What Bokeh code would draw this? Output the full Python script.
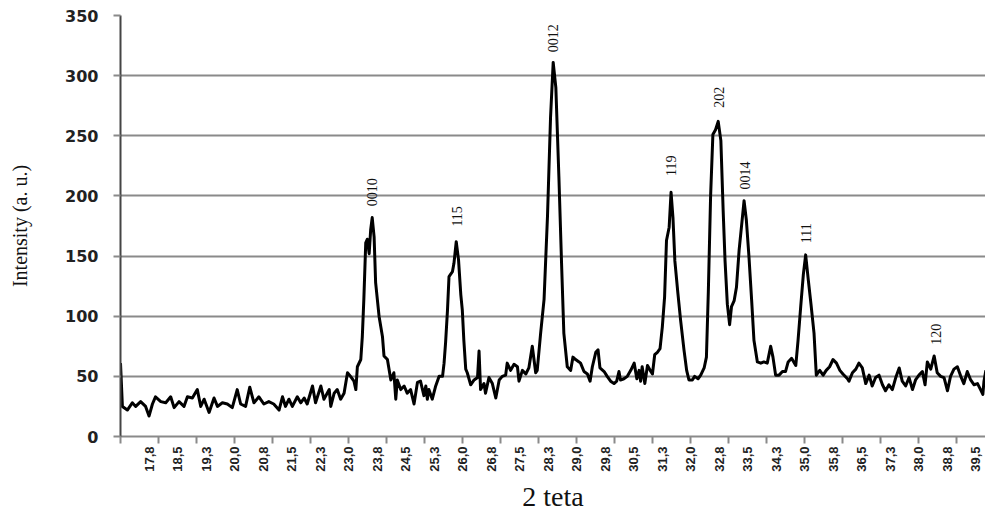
from math import pi
from bokeh.plotting import figure
from bokeh.models import FixedTicker, Range1d, ColumnDataSource
from bokeh.core.properties import value
from bokeh.embed import file_html
from bokeh.resources import INLINE

two_theta = [
    17.00, 17.05, 17.18, 17.31, 17.40, 17.53, 17.66, 17.75, 17.84, 17.92,
    18.06, 18.19, 18.32, 18.41, 18.54, 18.67, 18.76, 18.89, 19.02, 19.11,
    19.20, 19.33, 19.46, 19.55, 19.68, 19.81, 19.94, 20.07, 20.16, 20.29,
    20.40, 20.51, 20.64, 20.77, 20.90, 21.03, 21.17, 21.26, 21.34, 21.43,
    21.52, 21.65, 21.74, 21.83, 21.91, 22.05, 22.13, 22.27, 22.35, 22.49,
    22.53, 22.62, 22.70, 22.79, 22.88, 22.97, 23.05, 23.14, 23.19, 23.23,
    23.32, 23.36, 23.40, 23.45, 23.49, 23.54, 23.58, 23.62, 23.67, 23.71,
    23.80, 23.89, 23.93, 24.02, 24.11, 24.19, 24.24, 24.28, 24.37, 24.46,
    24.54, 24.63, 24.72, 24.81, 24.89, 24.98,
    25.03, 25.07, 25.11, 25.20, 25.29, 25.38, 25.47, 25.51, 25.55, 25.60,
    25.64, 25.73, 25.77, 25.83, 25.89, 25.95, 25.99, 26.03, 26.08, 26.12,
    26.21, 26.30, 26.39, 26.43, 26.47, 26.56, 26.60, 26.69, 26.78, 26.87,
    26.96, 27.04, 27.13, 27.17, 27.26, 27.35, 27.44, 27.48, 27.57, 27.66,
    27.74, 27.83, 27.92, 27.96, 28.05, 28.14, 28.23, 28.31, 28.38, 28.45,
    28.53, 28.60, 28.66, 28.75, 28.84, 28.90, 28.97, 29.06,
    29.10, 29.19, 29.28, 29.35, 29.41, 29.50, 29.56, 29.61, 29.72, 29.80,
    29.89, 29.98, 30.05, 30.11, 30.15, 30.24, 30.33, 30.42, 30.51, 30.58,
    30.64, 30.68, 30.72, 30.79, 30.86, 30.93, 30.99, 31.05, 31.12, 31.19,
    31.25, 31.31, 31.36, 31.43, 31.48, 31.53, 31.58, 31.66, 31.73, 31.82,
    31.89, 31.95, 32.04, 32.10, 32.19, 32.26, 32.35, 32.41, 32.46, 32.52,
    32.58, 32.65, 32.72, 32.79, 32.85, 32.90, 32.96, 33.02, 33.07, 33.14,
    33.20, 33.27, 33.34, 33.40, 33.46, 33.53, 33.60, 33.66, 33.75, 33.84,
    33.92, 34.01, 34.10, 34.16, 34.23, 34.32, 34.41, 34.49, 34.56, 34.65,
    34.76, 34.82, 34.89, 34.96, 35.02, 35.09, 35.16, 35.24, 35.30, 35.39,
    35.48, 35.56, 35.65, 35.74, 35.83, 35.92, 36.00, 36.12,
    36.16, 36.25, 36.34, 36.42, 36.51, 36.60, 36.69, 36.77, 36.86, 36.95,
    37.04, 37.12, 37.21, 37.30, 37.39, 37.48, 37.56, 37.65, 37.74, 37.83,
    37.91, 38.00, 38.09, 38.16, 38.22, 38.31, 38.40, 38.48, 38.57, 38.66,
    38.75, 38.83, 38.92, 39.01, 39.10, 39.18, 39.27, 39.36, 39.45, 39.54,
    39.62, 39.68, 39.71, 39.76,
]

intensity = [
    61, 25, 22, 28, 25, 29, 25, 17, 27, 33,
    29, 28, 33, 24, 29, 25, 33, 32, 39, 25,
    31, 20, 32, 25, 28, 27, 24, 39, 27, 25,
    41, 28, 33, 27, 29, 27, 22, 33, 25, 31,
    25, 33, 28, 32, 27, 42, 28, 42, 31, 39,
    25, 36, 39, 31, 36, 53, 50, 46, 39, 58,
    64, 83, 114, 161, 164, 152, 172, 182, 166, 128,
    100, 83, 67, 64, 47, 53, 31, 47, 39, 42,
    36, 39, 27, 45, 46, 34,
    42, 31, 39, 31, 42, 50, 50, 61, 78, 105,
    133, 137, 144, 162, 147, 118, 105, 80, 56, 53,
    43, 47, 49, 71, 39, 44, 36, 49, 44, 32,
    47, 50, 51, 61, 55, 60, 58, 46, 55, 52,
    57, 75, 53, 55, 86, 114, 183, 265, 311, 290,
    216, 144, 86, 58, 55, 66, 64, 62,
    61, 54, 52, 46, 58, 70, 72, 57, 54, 50,
    46, 44, 46, 54, 47, 48, 50, 55, 61, 48,
    55, 46, 58, 44, 59, 55, 52, 68, 70, 73,
    91, 116, 163, 174, 203, 182, 146, 119, 97, 72,
    55, 47, 47, 50, 48, 51, 57, 66, 120, 200,
    251, 255, 262, 246, 188, 146, 110, 93, 108, 113,
    124, 155, 177, 196, 180, 149, 113, 80, 62, 61,
    62, 61, 75, 66, 51, 51, 54, 54, 62, 65,
    59, 80, 108, 135, 151, 130, 110, 86, 51, 55,
    51, 55, 58, 64, 61, 55, 52, 48,
    46, 53, 56, 61, 57, 44, 51, 42, 49, 51,
    43, 38, 43, 39, 49, 57, 46, 42, 49, 39,
    47, 51, 54, 43, 62, 56, 67, 53, 50, 49,
    38, 50, 56, 58, 50, 44, 54, 47, 43, 44,
    39, 35, 46, 55,
]

tick_pos = [17.75, 18.5, 19.25, 20.0, 20.75, 21.5, 22.25, 23.0, 23.75, 24.5,
            25.25, 26.0, 26.75, 27.5, 28.25, 29.0, 29.75, 30.5, 31.25, 32.0,
            32.75, 33.5, 34.25, 35.0, 35.75, 36.5, 37.25, 38.0, 38.75, 39.5]
tick_labels = ["17,8", "18,5", "19,3", "20,0", "20,8", "21,5", "22,3", "23,0", "23,8", "24,5",
               "25,3", "26,0", "26,8", "27,5", "28,3", "29,0", "29,8", "30,5", "31,3", "32,0",
               "32,8", "33,5", "34,3", "35,0", "35,8", "36,5", "37,3", "38,0", "38,8", "39,5"]
tick_marks = [17, 18, 19, 20, 21, 22, 23, 24, 25, 26, 27, 28, 29, 30, 31, 32,
              33, 34, 35, 36, 37, 38, 39]
y_ticks = [0, 50, 100, 150, 200, 250, 300, 350]

peak_names = ["0010", "115", "0012", "119", "202", "0014", "111", "120"]
peak_pos = [23.61, 25.85, 28.37, 31.48, 32.74, 33.43, 35.03, 38.45]
peak_label_y = [203, 183, 331, 225, 282, 217, 169, 85]

GRID = "#8a8a8a"

p = figure(width=985, height=514, output_backend="svg", toolbar_location=None,
           x_range=Range1d(17.0, 39.75), y_range=Range1d(0, 350),
           min_border_left=120, min_border_right=0, min_border_top=15, min_border_bottom=77)
p.outline_line_color = None
p.background_fill_color = "white"
p.border_fill_color = "white"

p.xgrid.visible = False
p.ygrid.ticker = FixedTicker(ticks=y_ticks)
p.ygrid.grid_line_color = GRID
p.ygrid.grid_line_width = 2

# y axis
p.yaxis.ticker = FixedTicker(ticks=y_ticks)
p.yaxis.axis_line_color = "#444444"
p.yaxis.axis_line_width = 2
p.yaxis.major_tick_line_color = GRID
p.yaxis.major_tick_line_width = 2
p.yaxis.major_tick_out = 7
p.yaxis.major_tick_in = 0
p.yaxis.minor_tick_line_color = None
p.yaxis.major_label_text_font = "DejaVu Sans"
p.yaxis.major_label_text_font_style = "bold"
p.yaxis.major_label_text_font_size = "16px"
p.yaxis.major_label_text_color = "#222222"
p.yaxis.major_label_standoff = 15
p.yaxis.axis_label = "Intensity (a. u.)"
p.yaxis.axis_label_text_font = "Liberation Serif"
p.yaxis.axis_label_text_font_style = "normal"
p.yaxis.axis_label_text_font_size = "20px"
p.yaxis.axis_label_text_color = "#111111"
p.yaxis.axis_label_standoff = 31

# x axis
p.xaxis.ticker = FixedTicker(ticks=tick_pos, minor_ticks=tick_marks)
p.xaxis.major_label_overrides = dict(zip(tick_pos, tick_labels))
p.xaxis.axis_line_color = GRID
p.xaxis.axis_line_width = 2
p.xaxis.major_tick_line_color = None
p.xaxis.major_tick_out = 7
p.xaxis.major_tick_in = 0
p.xaxis.minor_tick_line_color = GRID
p.xaxis.minor_tick_line_width = 2
p.xaxis.minor_tick_out = 7
p.xaxis.minor_tick_in = 0
p.xaxis.major_label_orientation = pi / 2
p.xaxis.major_label_standoff = 3
p.xaxis.major_label_text_font = "Liberation Sans"
p.xaxis.major_label_text_font_style = "bold"
p.xaxis.major_label_text_font_size = "13px"
p.xaxis.major_label_text_color = "#222222"
p.xaxis.axis_label = "2 teta"
p.xaxis.axis_label_text_font = "Liberation Serif"
p.xaxis.axis_label_text_font_style = "normal"
p.xaxis.axis_label_text_font_size = "28px"
p.xaxis.axis_label_text_color = "#111111"
p.xaxis.axis_label_standoff = 6

p.line(two_theta, intensity, line_color="black", line_width=3, line_join="round")

src = ColumnDataSource(dict(x=peak_pos, y=peak_label_y, t=peak_names))
p.text(x="x", y="y", text="t", source=src, angle=pi / 2,
       text_align="center", text_baseline="middle",
       text_font=value("Liberation Serif"), text_font_size="14px", text_color="#111111")

open("out.html", "w").write(file_html(p, INLINE))
